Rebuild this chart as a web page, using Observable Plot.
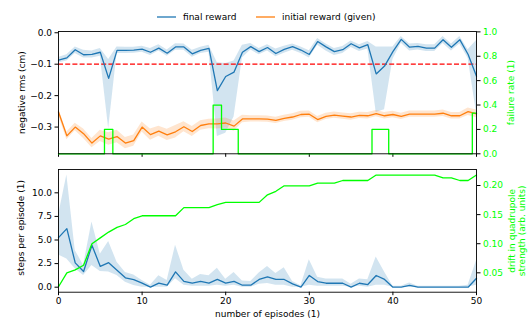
<!DOCTYPE html>
<html><head><meta charset="utf-8">
<script src="https://cdn.jsdelivr.net/npm/d3@7"></script>
<script src="https://cdn.jsdelivr.net/npm/@observablehq/plot@0.6"></script>
<style>
body{margin:0;background:#fff;}
#chart{position:relative;width:528px;height:320px;font-family:"DejaVu Sans",sans-serif;background:#fff;overflow:hidden;}
#chart svg.layer{position:absolute;left:0;top:0;}
.leg{position:absolute;top:11px;height:12px;display:flex;align-items:center;font-size:9px;color:#000;white-space:nowrap;}
.leg svg{margin-right:7px;}
</style></head><body><div id="chart"></div>
<script>
// ---- data ----
const episodes = d3.range(51);
const finalReward = [-0.087,-0.080,-0.054,-0.070,-0.069,-0.062,-0.145,-0.056,-0.056,-0.055,-0.052,-0.062,-0.049,-0.065,-0.045,-0.045,-0.067,-0.056,-0.050,-0.184,-0.139,-0.125,-0.062,-0.044,-0.060,-0.047,-0.066,-0.053,-0.044,-0.055,-0.069,-0.028,-0.045,-0.060,-0.054,-0.035,-0.048,-0.038,-0.131,-0.106,-0.060,-0.021,-0.046,-0.043,-0.049,-0.049,-0.022,-0.046,-0.022,-0.069,-0.138];
const finalLow = [-0.096,-0.090,-0.066,-0.080,-0.080,-0.075,-0.305,-0.066,-0.066,-0.065,-0.062,-0.072,-0.058,-0.075,-0.056,-0.056,-0.078,-0.066,-0.062,-0.330,-0.320,-0.268,-0.080,-0.055,-0.070,-0.058,-0.076,-0.065,-0.056,-0.066,-0.080,-0.040,-0.058,-0.072,-0.066,-0.047,-0.060,-0.052,-0.254,-0.245,-0.085,-0.033,-0.058,-0.055,-0.060,-0.060,-0.034,-0.058,-0.036,-0.082,-0.255];
const finalHigh = [-0.079,-0.070,-0.045,-0.056,-0.058,-0.050,-0.085,-0.045,-0.046,-0.046,-0.043,-0.050,-0.038,-0.055,-0.035,-0.036,-0.056,-0.046,-0.040,-0.095,-0.098,-0.090,-0.040,-0.034,-0.050,-0.038,-0.052,-0.043,-0.036,-0.045,-0.057,-0.018,-0.036,-0.050,-0.044,-0.026,-0.038,-0.028,-0.045,-0.045,-0.045,-0.012,-0.036,-0.034,-0.038,-0.038,-0.012,-0.036,-0.012,-0.054,-0.025];
const initialReward = [-0.252,-0.328,-0.300,-0.321,-0.351,-0.328,-0.338,-0.330,-0.351,-0.343,-0.300,-0.324,-0.313,-0.325,-0.315,-0.299,-0.314,-0.295,-0.290,-0.290,-0.287,-0.297,-0.274,-0.274,-0.274,-0.275,-0.279,-0.272,-0.268,-0.260,-0.259,-0.276,-0.266,-0.262,-0.265,-0.268,-0.263,-0.264,-0.257,-0.264,-0.260,-0.266,-0.259,-0.259,-0.259,-0.259,-0.256,-0.264,-0.264,-0.251,-0.258];
const initialErr = [0.010,0.012,0.012,0.015,0.015,0.018,0.020,0.020,0.018,0.018,0.016,0.018,0.016,0.018,0.020,0.016,0.016,0.015,0.015,0.016,0.016,0.016,0.012,0.010,0.010,0.010,0.010,0.010,0.010,0.010,0.010,0.010,0.010,0.010,0.010,0.010,0.010,0.010,0.010,0.010,0.010,0.010,0.010,0.010,0.010,0.010,0.010,0.010,0.010,0.012,0.012];
const failureRate = [0,0,0,0,0,0,0.2,0,0,0,0,0,0,0,0,0,0,0,0,0.4,0.2,0.2,0,0,0,0,0,0,0,0,0,0,0,0,0,0,0,0,0.2,0.2,0,0,0,0,0,0,0,0,0,0,0.333];
const threshold = -0.1;
const steps = [5.25,6.2,2.58,1.66,4.45,2.2,2.6,1.8,0.99,0.8,0.43,0,0.43,0.21,1.63,0.62,0.43,0.62,0.43,0.82,0.43,0.62,0.21,0.21,0.82,1.1,0.82,0.82,0.36,0,1.24,0.6,0.42,0.42,0.42,0,0.42,0.28,1.24,0.82,0,0,0.2,0,0,0,0,0,0,0,0.95];
const stepsLow = [3.4,3.0,1.95,1.24,2.3,1.66,1.6,1.24,0.53,0.18,0,0,0,0,0.9,0.2,0.1,0.1,0.1,0.2,0.1,0.2,0,0,0.3,0.4,0.2,0.2,0,0,0.2,0.1,0.1,0.1,0.1,0,0.1,0,0.2,0.2,0,0,0,0,0,0,0,0,0,0,0.2];
const stepsHigh = [7.6,11.9,3.9,2.3,6.9,3.5,4.85,2.65,1.55,1.3,0.7,0.2,1.2,0.7,4.45,1.8,0.85,1.35,1.2,2.0,0.85,1.55,0.65,0.6,1.5,2.2,1.45,2.05,0.6,0.15,2.9,1.06,0.88,0.88,0.88,0.3,0.88,0.8,3.2,1.6,0.1,0.1,0.45,0.1,0.1,0.1,0.1,0.1,0.1,0.2,2.8];
const drift = [0.026,0.050,0.055,0.063,0.100,0.110,0.120,0.128,0.133,0.143,0.148,0.148,0.148,0.148,0.148,0.162,0.162,0.162,0.162,0.167,0.171,0.171,0.171,0.171,0.171,0.184,0.190,0.1995,0.1995,0.1995,0.1995,0.204,0.204,0.204,0.2086,0.2086,0.2086,0.2086,0.218,0.218,0.218,0.218,0.218,0.218,0.218,0.218,0.213,0.213,0.2086,0.2086,0.218];
const xTicks = [0,10,20,30,40,50];
const rewardTicks = [0,-0.1,-0.2,-0.3];
const failureTicks = [0,0.2,0.4,0.6,0.8,1.0];
const stepsTicks = [0,2.5,5,7.5,10];
const driftTicks = [0.05,0.10,0.15,0.20];
const labels = {
  reward: "negative rms (cm)", failure: "failure rate (1)",
  steps: "steps per episode (1)", drift: "drift in quadrupole\nstrength (arb. units)",
  x: "number of episodes (1)", final: "final reward", initial: "initial reward (given)"
};
const BLUE = "#1f77b4", ORANGE = "#ff7f0e", GREEN = "#00ff00";

const rows = episodes.map((e, i) => ({
  ep: e, fin: finalReward[i], flo: finalLow[i], fhi: finalHigh[i],
  ini: initialReward[i], ilo: initialReward[i] - initialErr[i], ihi: initialReward[i] + initialErr[i],
  fail: failureRate[i], st: steps[i], slo: stepsLow[i], shi: stepsHigh[i], dr: drift[i]
}));

const W = 528, H = 320;
const base = {
  width: W, height: H, marginLeft: 58, marginRight: 52,
  style: {background: "transparent", fontFamily: "DejaVu Sans, sans-serif", fontSize: "9px", color: "black", overflow: "visible"}
};
const topM = {marginTop: 31, marginBottom: H - 153.3};
const botM = {marginTop: 169, marginBottom: H - 291.7};
const xs = {domain: [0, 50]};
const vlab = {textAnchor: "middle", lineAnchor: "middle", rotate: -90};

const tl = Plot.plot({...base, ...topM, x: xs, y: {domain: [-0.385, 0.004]},
  marks: [
    Plot.areaY(rows, {x: "ep", y1: "flo", y2: "fhi", fill: BLUE, fillOpacity: 0.2}),
    Plot.areaY(rows, {x: "ep", y1: "ilo", y2: "ihi", fill: ORANGE, fillOpacity: 0.2}),
    Plot.ruleY([threshold], {stroke: "#ff0000", strokeWidth: 1.3, strokeDasharray: "5,2.2"}),
    Plot.lineY(rows, {x: "ep", y: "fin", stroke: BLUE, strokeWidth: 1.3}),
    Plot.lineY(rows, {x: "ep", y: "ini", stroke: ORANGE, strokeWidth: 1.3}),
    Plot.axisY({ticks: rewardTicks, tickFormat: d3.format(".1f"), tickSize: 3.5, tickPadding: 3, label: null}),
    Plot.axisX({ticks: xTicks, tickFormat: () => "", tickSize: 3.5, label: null}),
    Plot.text([labels.reward], {text: d => d, frameAnchor: "left", dx: -36, ...vlab, fill: "black"})
  ]});
const tr = Plot.plot({...base, ...topM, x: {...xs, axis: null}, y: {domain: [0, 1.003]},
  marks: [
    Plot.lineY(rows, {x: "ep", y: "fail", curve: "step", stroke: GREEN, strokeWidth: 1.3}),
    Plot.frame({stroke: "black", strokeWidth: 0.9}),
    Plot.axisY({anchor: "right", ticks: failureTicks, tickFormat: d3.format(".1f"), tickSize: 3.5, tickPadding: 3, stroke: "black", fill: GREEN, label: null}),
    Plot.text([labels.failure], {text: d => d, frameAnchor: "right", dx: 35, ...vlab, fill: GREEN})
  ]});
const bl = Plot.plot({...base, ...botM, x: xs, y: {domain: [-0.53, 12.47]},
  marks: [
    Plot.areaY(rows, {x: "ep", y1: "slo", y2: "shi", fill: BLUE, fillOpacity: 0.2}),
    Plot.lineY(rows, {x: "ep", y: "st", stroke: BLUE, strokeWidth: 1.3}),
    Plot.axisY({ticks: stepsTicks, tickFormat: d3.format(".1f"), tickSize: 3.5, tickPadding: 3, label: null}),
    Plot.axisX({ticks: xTicks, tickFormat: d3.format("d"), tickSize: 3.5, tickPadding: 2, label: null}),
    Plot.text([labels.steps], {text: d => d, frameAnchor: "left", dx: -37, dy: -3, ...vlab, fill: "black"}),
    Plot.text([labels.x], {text: d => d, frameAnchor: "bottom", dy: 22, textAnchor: "middle", lineAnchor: "middle", fill: "black"})
  ]});
const br = Plot.plot({...base, ...botM, x: {...xs, axis: null}, y: {domain: [0.0167, 0.2275]},
  marks: [
    Plot.lineY(rows, {x: "ep", y: "dr", stroke: GREEN, strokeWidth: 1.3}),
    Plot.frame({stroke: "black", strokeWidth: 0.9}),
    Plot.axisY({anchor: "right", ticks: driftTicks, tickFormat: d3.format(".2f"), tickSize: 3.5, tickPadding: 3, stroke: "black", fill: GREEN, label: null}),
    Plot.text([labels.drift], {text: d => d, frameAnchor: "right", dx: 40, ...vlab, fill: GREEN, lineHeight: 1.1})
  ]});

const chart = document.getElementById("chart");
for (const s of [tl, tr, bl, br]) { s.classList.add("layer"); chart.appendChild(s); }

function legItem(left, color, text) {
  const d = document.createElement("div");
  d.className = "leg"; d.style.left = left + "px";
  d.innerHTML = `<svg width="19" height="10"><line x1="0" x2="19" y1="5" y2="5" stroke="${color}" stroke-width="1.3"/></svg><span>${text}</span>`;
  chart.appendChild(d);
}
legItem(157, BLUE, labels.final);
legItem(256, ORANGE, labels.initial);
</script></body></html>
